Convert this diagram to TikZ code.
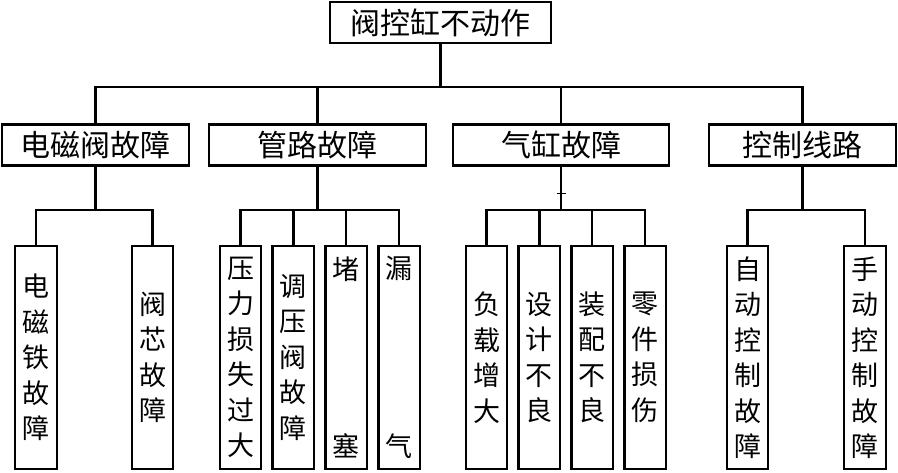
\documentclass[tikz,border=0pt]{standalone}
\usepackage{fontspec}
\newfontfamily\cjk{Noto Sans CJK SC}
\usetikzlibrary{positioning}

\begin{document}
\begin{tikzpicture}[x=1pt, y=-1pt,
    box/.style={draw, rectangle, line width=2.4pt, inner sep=0pt,
      font=\cjk\fontsize{30}{32}\selectfont},
    headbox/.style={box, minimum height=41pt},
    leafbox/.style={box, minimum width=41.5pt, minimum height=222.5pt, align=center,
      font=\cjk\fontsize{27}{35.5}\selectfont},
    link/.style={line width=2.2pt}
]
  \useasboundingbox (0,0) rectangle (898,472);

  % Sommet
  \node[headbox, minimum width=220.5pt] (top) at (440.5,22.5) {阀控缸不动作};

  % Niveau 2
  \node[headbox, minimum width=186.5pt] (m1) at (95.5,145) {电磁阀故障};
  \node[headbox, minimum width=216.5pt] (m2) at (317.5,145) {管路故障};
  \node[headbox, minimum width=215.5pt] (m3) at (561,145) {气缸故障};
  \node[headbox, minimum width=186.5pt] (m4) at (802.5,145) {控制线路};

  % Feuilles
  \node[leafbox] (a1) at (36,357.5) {电\\磁\\铁\\故\\障};
  \node[leafbox] (a2) at (152.5,357.5) {阀\\芯\\故\\障};

  \node[leafbox] (b1) at (240.5,357.5) {压\\力\\损\\失\\过\\大};
  \node[leafbox, right=9pt of b1] (b2) {调\\压\\阀\\故\\障};
  \node[leafbox, right=9pt of b2] (b3) {堵\\[142pt]塞};
  \node[leafbox, right=9pt of b3] (b4) {漏\\[142pt]气};

  \node[leafbox] (c1) at (486.5,357.5) {负\\载\\增\\大};
  \node[leafbox, right=9pt of c1] (c2) {设\\计\\不\\良};
  \node[leafbox, right=9pt of c2] (c3) {装\\配\\不\\良};
  \node[leafbox, right=9pt of c3] (c4) {零\\件\\损\\伤};

  \node[leafbox] (d1) at (747.5,357.5) {自\\动\\控\\制\\故\\障};
  \node[leafbox] (d2) at (865,357.5) {手\\动\\控\\制\\故\\障};

  % Liaisons
  \coordinate (bus) at (0,87);
  \coordinate (bus2) at (0,210);
  \draw[link] (top.south) -- (top.south |- bus);
  \draw[link] (m1.north) |- (bus -| m4.north) -- (m4.north);
  \draw[link] (m2.north) -- (m2.north |- bus);
  \draw[link] (m3.north) -- (m3.north |- bus);

  \draw[link] (m1.south) -- (m1.south |- bus2);
  \draw[link] (a1.north) |- (bus2 -| a2.north) -- (a2.north);
  \draw[link] (m2.south) -- (m2.south |- bus2);
  \draw[link] (b1.north) |- (bus2 -| b4.north) -- (b4.north);
  \draw[link] (b2.north) -- (b2.north |- bus2);
  \draw[link] (b3.north) -- (b3.north |- bus2);
  \draw[link] (m3.south) -- (m3.south |- bus2);
  \draw[link] (c1.north) |- (bus2 -| c4.north) -- (c4.north);
  \draw[link] (c2.north) -- (c2.north |- bus2);
  \draw[link] (c3.north) -- (c3.north |- bus2);
  \draw[link] (m4.south) -- (m4.south |- bus2);
  \draw[link] (d1.north) |- (bus2 -| d2.north) -- (d2.north);

  % petit trait
  \draw[line width=0.6pt] ([xshift=-4.5pt]m3.south |- 0,193) -- ([xshift=4.5pt]m3.south |- 0,193);
\end{tikzpicture}
\end{document}
